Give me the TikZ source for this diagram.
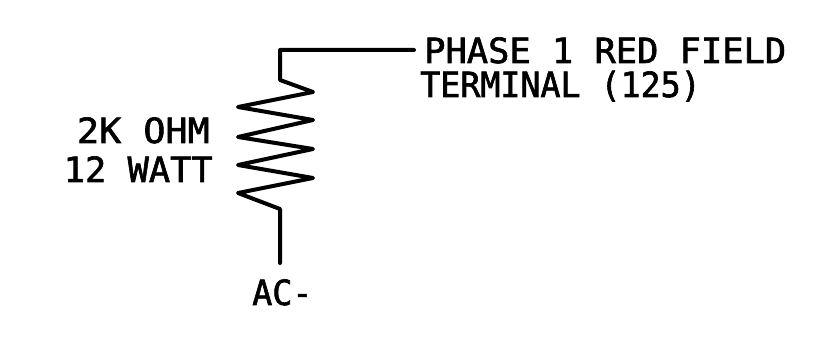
\documentclass[tikz,border=0pt]{standalone}
\usepackage{fontspec}
\newfontfamily\plotfont[FakeStretch=1.02,FakeBold=1.8]{DejaVu Sans Mono}
\newfontfamily\plotnarrow[FakeStretch=0.96,FakeBold=1.8]{DejaVu Sans Mono}
\newfontfamily\plotwide[FakeStretch=1.06,FakeBold=1.8]{DejaVu Sans Mono}
\tikzset{lbl/.style={inner sep=0pt,font=\plotfont\fontsize{26}{26}\selectfont,black,anchor=base west},
nrw/.style={lbl,font=\plotnarrow\fontsize{26}{26}\selectfont},
wde/.style={lbl,font=\plotwide\fontsize{26}{26}\selectfont},
wire/.style={line width=3pt,line join=round,line cap=round}}
\begin{document}
\begin{tikzpicture}[x=0.75pt,y=-0.75pt]
\useasboundingbox (0,0) rectangle (818,338);
\node[lbl] (p1) at (424,63) {PHASE 1 RED FIELD};
\node[nrw] (p2) at (420,97) {TERMINAL (125)};
\node[wde,anchor=base east] (o1) at (210,143) {2K OHM};
\node[lbl,anchor=base east] (o2) at (213,182) {12 WATT};
\node[nrw] (ac) at (252,305) {AC-};
\coordinate (t) at (414,50);
\coordinate (b) at (280,263);
\draw[wire] (t) -- (280,50) -- (280,80) -- (313,92) -- (238,107) -- (313,120) -- (238,137) -- (313,149) -- (238,165) -- (313,178) -- (238,193) -- (280,209) -- (b);
\end{tikzpicture}
\end{document}
